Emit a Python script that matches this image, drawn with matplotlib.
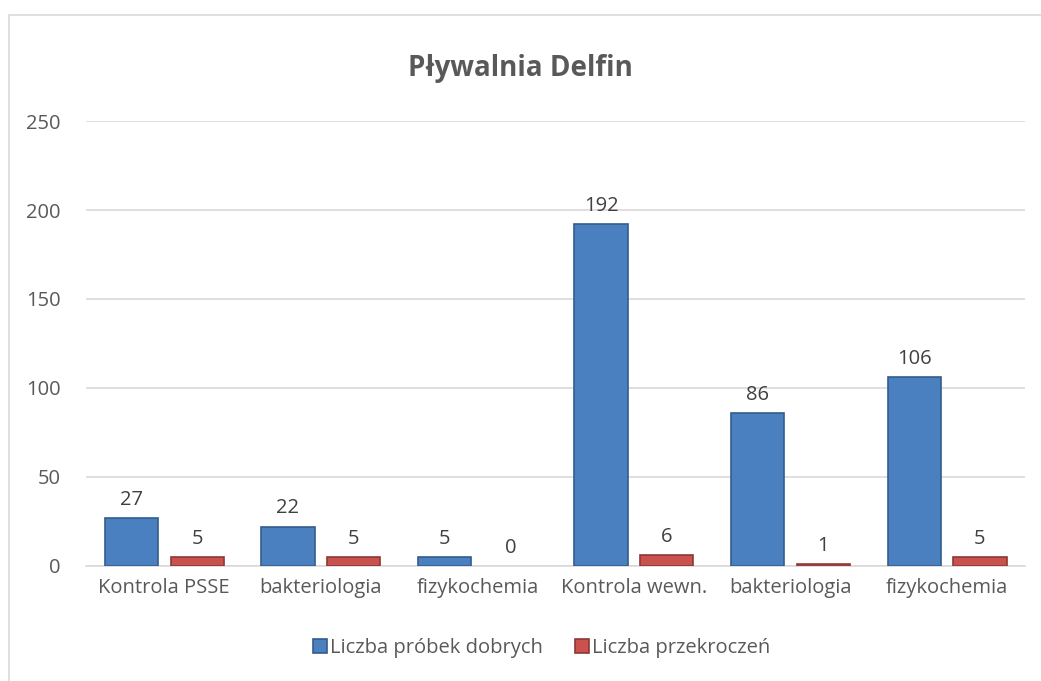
import numpy as np
import matplotlib
matplotlib.use('Agg')
import matplotlib.pyplot as plt
from matplotlib.patches import Rectangle

plt.rcParams['font.family'] = ['Open Sans', 'DejaVu Sans']

categories = ['Kontrola PSSE', 'bakteriologia', 'fizykochemia',
              'Kontrola wewn.', 'bakteriologia', 'fizykochemia']
good = [27, 22, 5, 192, 86, 106]
exceeded = [5, 5, 0, 6, 1, 5]
series_names = ['Liczba próbek dobrych', 'Liczba przekroczeń']
yticks = [0, 50, 100, 150, 200, 250]

text_col = '#595959'
blue = '#4A80C0'
blue_edge = '#345C8C'
red = '#C9514E'
red_edge = '#8C3836'
fs = 14.5

fig = plt.figure(figsize=(10.41, 6.81), dpi=100)
ax = fig.add_axes([0.0826, 0.1689, 0.9024, 0.6534])

# ramka wykresu
fig.patches.append(Rectangle((9 / 1041, -0.1), 1.2, 1 - 15 / 681 + 0.1,
                             transform=fig.transFigure, fill=False,
                             edgecolor='#D9D9D9', linewidth=1.2))

x = np.arange(len(categories))
w = 0.34
off = 0.21

b1 = ax.bar(x - off, good, w, color=blue, edgecolor=blue_edge, linewidth=1.2,
            label=series_names[0], zorder=3)
b2 = ax.bar(x + off, exceeded, w, color=red, edgecolor=red_edge, linewidth=1.2,
            label=series_names[1], zorder=3)
for rect, v in zip(b2, exceeded):
    if v == 0:
        rect.set_linewidth(0)

for bars, vals in ((b1, good), (b2, exceeded)):
    for rect, v in zip(bars, vals):
        ax.annotate(str(v), (rect.get_x() + rect.get_width() / 2, v),
                    xytext=(0, 6), textcoords='offset points',
                    ha='center', va='bottom', fontsize=fs, color='#404040')

ax.set_xlim(-0.5, len(categories) - 0.5)
ax.set_ylim(0, 250)
ax.set_yticks(yticks)
ax.set_xticks(x)
ax.set_xticklabels(categories)
ax.yaxis.grid(True, color='#D9D9D9', linewidth=1.2, zorder=0)
ax.set_axisbelow(True)
for s in ('top', 'right', 'left'):
    ax.spines[s].set_visible(False)
ax.spines['bottom'].set_color('#D9D9D9')
ax.spines['bottom'].set_linewidth(1.2)
ax.tick_params(axis='both', length=0, labelsize=fs, colors=text_col)
ax.tick_params(axis='y', pad=18)
ax.tick_params(axis='x', pad=9)

fig.text(0.5, 0.90, 'Pływalnia Delfin', ha='center', va='center',
         fontsize=20, fontweight='bold', color=text_col)

fig.legend(handles=[b1, b2], labels=series_names, loc='center',
           bbox_to_anchor=(0.52, 0.048), ncol=2, frameon=False,
           fontsize=fs, labelcolor=text_col, handlelength=0.7,
           handleheight=0.7, handletextpad=0.15, columnspacing=1.6)

fig.savefig('out.png', dpi=100)
